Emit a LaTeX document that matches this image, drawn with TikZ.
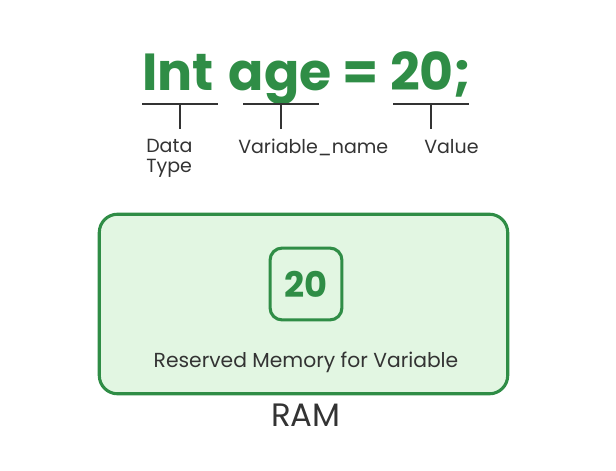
\documentclass[tikz,border=0pt]{standalone}
\usepackage{fontspec}
\setmainfont{Poppins}
\usepackage{xcolor}
\usepackage{tikz}
\definecolor{gfggreen}{HTML}{2F8D46}
\definecolor{ramfill}{HTML}{E2F6E2}
\definecolor{txtgray}{HTML}{333333}

\begin{document}
\begin{tikzpicture}[x=0.71pt, y=-0.71pt,
    tag/.style={text=txtgray, inner sep=0pt, font=\fontsize{13.5}{14}\selectfont, align=left},
    part/.style={color=txtgray, line width=1pt}]
  	\useasboundingbox (0,0) rectangle (616,470);
  	% statement
  	\node[text=gfggreen, inner sep=0pt, anchor=base, font=\fontsize{37}{40}\selectfont\bfseries] (stmt) at (307,90) {Int\hspace{3pt} age = 20;};
  	% underlines and ticks
  	\draw[part] (142,104) -- (218,104) coordinate[pos=0.5] (dtop);
  	\draw[part] (243,104) -- (319,104) coordinate[pos=0.5] (vtop);
  	\draw[part] (393,104) -- (469,104) coordinate[pos=0.5] (ltop);
  	\coordinate (dbot) at (180,129);
  	\coordinate (vbot) at (281,129);
  	\coordinate (lbot) at (431,129);
  	\draw[part] (dtop) -- (dbot);
  	\draw[part] (vtop) -- (vbot);
  	\draw[part] (ltop) -- (lbot);
  	\node[tag, anchor=base west] (dtype) at (146,172) {Data\\Type};
  	\node[tag, anchor=base west] (vname) at (238,153) {Variable\_name};
  	\node[tag, anchor=base west] (value) at (424,153) {Value};
  	% memory
  	\node[draw=gfggreen, fill=ramfill, line width=2.2pt, rounded corners=13pt,
  	      minimum width=290pt, minimum height=127.5pt] (ram) at (303.5,304) {};
  	\node[draw=gfggreen, line width=2.2pt, rounded corners=8.5pt, minimum size=51pt,
  	      text=gfggreen, font=\fontsize{25}{27}\selectfont\bfseries] (cell) at (306,284) {20};
  	\node[text=txtgray, font=\fontsize{14.4}{16}\selectfont] (resv) at (306,362) {Reserved Memory for Variable};
  	\node[text=txtgray, font=\fontsize{23}{25}\selectfont] (ramlbl) at (306,415) {RAM};
\end{tikzpicture}
\end{document}
